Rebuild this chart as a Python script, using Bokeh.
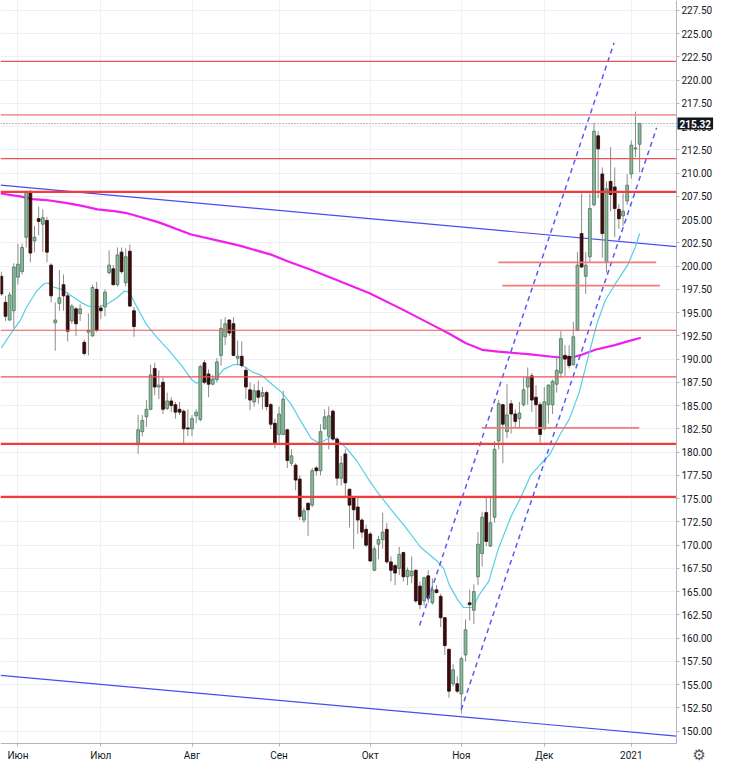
import numpy as np
import pandas as pd
from bokeh.plotting import figure
from bokeh.models import ColumnDataSource, FixedTicker, Range1d, Label, NumeralTickFormatter, LinearAxis
from bokeh.embed import file_html
from bokeh.resources import INLINE

# ---------------- data ----------------
opens = [198.9, 196.1, 194.2, 195.2, 198.8, 199.4, 203.1, 208.0, 202.7, 205.1,
         204.5, 204.9, 200.1, 193.9, 196.0, 198.0, 196.8, 194.1, 195.4, 194.9,
         191.8, 192.9, 192.5, 197.5, 195.5, 195.6, 199.3, 199.7, 198.0, 201.5,
         198.2, 201.6, 195.2, 180.8, 182.2, 183.8, 184.6, 189.0, 187.0, 187.5,
         184.7, 185.5, 185.1, 184.6, 184.4, 182.6, 182.5, 183.9, 183.5, 189.6,
         188.4, 187.3, 187.8, 190.4, 192.4, 194.2, 193.8, 190.1, 190.3, 188.8,
         186.7, 185.4, 186.6, 186.0, 186.4, 185.1, 183.1, 181.9, 181.9, 182.4,
         178.8, 178.6, 177.1, 172.7, 174.5, 174.3, 178.3, 178.0, 182.5, 181.7,
         184.4, 181.4, 177.2, 179.8, 176.0, 175.2, 174.1, 172.7, 171.7, 171.2,
         167.3, 170.1, 170.6, 171.7, 168.2, 167.8, 167.5, 169.2, 166.6, 166.7,
         167.3, 165.6, 164.0, 166.7, 163.8, 165.2, 164.5, 162.2, 158.8, 155.1,
         155.1, 154.0, 158.2, 163.8, 163.0, 166.6, 169.1, 173.5, 169.9, 173.0,
         181.2, 185.1, 182.2, 185.2, 184.1, 183.6, 185.1, 187.0, 188.2, 185.9,
         185.1, 182.5, 185.1, 185.1, 187.3, 188.5, 190.4, 190.3, 189.4, 193.1,
         203.5, 198.9, 201.0, 206.6, 214.0, 209.9, 200.4, 209.1, 208.5, 206.1,
         205.4, 207.0, 209.9, 212.6, 213.1]
highs = [199.4, 196.8, 197.2, 200.3, 202.4, 202.4, 208.1, 208.2, 204.3, 206.4,
         206.1, 205.3, 200.3, 196.1, 199.6, 199.1, 197.2, 195.9, 195.6, 195.9,
         192.1, 194.9, 198.0, 198.3, 195.8, 197.5, 201.7, 200.1, 202.0, 202.0,
         201.9, 202.3, 195.6, 184.0, 184.0, 185.6, 189.4, 189.6, 188.8, 188.0,
         186.4, 185.9, 185.4, 185.4, 184.6, 184.6, 184.0, 184.6, 189.4, 189.9,
         188.9, 188.3, 190.1, 194.3, 194.5, 194.3, 194.5, 192.0, 191.9, 189.1,
         187.5, 187.3, 187.7, 187.0, 186.6, 185.3, 183.6, 184.9, 186.6, 182.5,
         180.3, 178.8, 177.5, 174.0, 174.6, 178.3, 178.5, 183.0, 184.6, 184.9,
         184.6, 181.6, 179.6, 180.3, 176.1, 175.3, 175.1, 172.9, 172.2, 171.4,
         169.9, 171.0, 173.5, 172.4, 168.8, 168.0, 169.8, 169.3, 167.6, 168.8,
         167.4, 166.1, 166.6, 167.3, 166.4, 165.7, 164.8, 162.3, 158.9, 157.2,
         155.9, 158.0, 162.0, 165.2, 165.8, 171.4, 173.6, 175.2, 175.2, 181.2,
         185.6, 185.2, 187.3, 185.6, 184.6, 185.4, 188.0, 189.1, 188.5, 187.2,
         185.4, 187.0, 187.3, 187.8, 190.4, 193.0, 191.5, 191.5, 194.0, 201.5,
         207.8, 201.5, 207.8, 215.4, 214.5, 210.6, 209.1, 212.8, 210.6, 206.7,
         207.8, 209.9, 213.5, 216.6, 215.4]
lows = [196.8, 194.1, 194.1, 193.3, 198.0, 199.1, 202.0, 200.4, 201.5, 203.3,
        201.5, 200.4, 196.1, 190.9, 195.2, 195.2, 191.9, 193.8, 192.5, 194.1,
        190.4, 190.4, 192.4, 192.9, 194.3, 194.6, 199.1, 197.9, 197.8, 199.2,
        197.8, 195.6, 192.4, 179.8, 181.7, 182.7, 184.5, 186.1, 185.7, 184.1,
        184.5, 184.3, 183.6, 184.0, 180.8, 181.7, 181.7, 183.1, 183.3, 187.3,
        185.9, 187.2, 187.5, 189.3, 191.5, 192.5, 190.3, 189.4, 189.1, 185.7,
        184.5, 184.9, 185.2, 184.6, 184.5, 182.5, 180.4, 181.0, 181.8, 178.3,
        178.5, 175.9, 172.7, 172.4, 171.0, 174.1, 177.5, 177.5, 182.4, 180.3,
        181.2, 176.4, 176.4, 175.2, 171.9, 169.6, 171.2, 170.8, 169.8, 168.2,
        167.2, 168.5, 169.6, 168.0, 166.1, 165.7, 166.8, 166.1, 165.7, 165.9,
        163.8, 163.1, 163.5, 163.8, 163.6, 164.8, 161.2, 158.2, 153.6, 154.8,
        154.1, 151.9, 157.5, 161.9, 161.5, 165.7, 167.7, 169.9, 169.8, 172.4,
        180.3, 178.8, 181.5, 182.0, 182.7, 182.5, 184.9, 185.1, 184.3, 182.5,
        181.0, 182.4, 183.1, 184.1, 186.4, 188.0, 188.2, 189.0, 189.3, 193.0,
        199.8, 197.0, 200.4, 206.4, 207.3, 200.9, 199.3, 205.9, 203.1, 204.0,
        204.3, 206.6, 209.4, 211.7, 210.1]
closes = [197.0, 194.6, 196.9, 199.9, 200.2, 202.0, 208.0, 201.4, 203.1, 204.8,
          205.2, 201.5, 196.8, 194.2, 196.6, 196.8, 193.0, 195.7, 193.8, 195.4,
          190.6, 193.1, 197.7, 193.1, 195.2, 197.2, 200.1, 198.0, 201.2, 199.4,
          201.0, 195.7, 193.5, 182.4, 183.4, 184.6, 188.3, 187.0, 187.2, 184.6,
          185.5, 185.0, 184.3, 184.3, 182.5, 182.5, 183.6, 184.3, 189.2, 187.5,
          187.3, 187.8, 189.7, 193.3, 193.8, 192.8, 190.4, 190.3, 189.3, 187.0,
          185.6, 186.6, 185.9, 186.4, 184.9, 183.0, 181.0, 184.1, 185.7, 179.1,
          179.6, 177.0, 173.1, 173.7, 173.8, 178.0, 178.0, 182.2, 183.8, 183.9,
          181.4, 177.2, 178.8, 176.7, 174.3, 173.8, 172.7, 171.4, 170.0, 168.3,
          169.6, 170.6, 171.4, 168.2, 167.3, 167.0, 169.0, 166.6, 167.3, 167.2,
          164.0, 163.6, 166.5, 164.3, 165.2, 164.9, 162.2, 159.2, 154.3, 156.6,
          154.3, 157.8, 160.9, 163.6, 165.0, 170.1, 173.0, 170.4, 172.4, 180.3,
          185.2, 183.0, 184.0, 184.1, 183.3, 184.2, 186.7, 188.0, 185.6, 185.1,
          181.9, 185.4, 187.2, 187.6, 188.8, 192.2, 190.0, 189.3, 192.4, 200.1,
          199.9, 200.1, 206.2, 214.5, 212.6, 203.5, 208.3, 207.7, 206.2, 205.1,
          205.9, 208.7, 213.0, 212.7, 215.32]

month_labels = ["Июн", "Июл", "Авг", "Сен", "Окт", "Ноя", "Дек", "2021"]
month_bars = [4, 24, 46, 67, 89, 111, 131, 152]

# fast moving average (cyan), read as (bar, value)
ma_fast_bar = [0, 2.8, 4.5, 6.1, 8.5, 10.3, 11.3, 12.2, 14.5, 16.9, 19.2, 20.9, 23.2,
               25.5, 27.9, 29.7, 30.9, 32.1, 34.9, 37.2, 40.3, 43.5, 45.9, 47.1, 48.2,
               50.6, 52.0, 53.6, 56.0, 57.6, 59.0, 60.6, 63.0, 65.3, 67.7, 70.0, 72.3,
               74.7, 76.5, 77.7, 79.4, 81.0, 83.3, 85.7, 88.7, 90.4, 94.1, 97.4, 101.1,
               105.1, 106.7, 108.1, 110.0, 111.5, 113.8, 115.2, 117.6, 119.9, 123.0,
               125.4, 127.7, 130.1, 132.4, 134.8, 137.1, 139.4, 141.8, 143.7, 145.7,
               148.0, 151.1, 153.1, 154.0]
ma_fast_val = [191.2, 193.1, 194.1, 195.6, 197.3, 198.1, 198.2, 197.8, 197.5, 196.8,
               196.1, 195.7, 195.6, 195.9, 196.6, 197.3, 197.2, 196.1, 193.8, 192.5,
               191.0, 189.3, 187.8, 187.4, 187.6, 187.8, 188.0, 188.9, 189.4, 189.4,
               189.1, 188.6, 188.2, 187.3, 186.4, 185.1, 183.3, 181.5, 181.0, 181.2,
               181.6, 181.4, 180.4, 179.1, 177.0, 175.9, 173.8, 172.0, 169.8, 168.3,
               167.5, 165.7, 164.2, 163.3, 163.3, 164.6, 166.1, 169.6, 173.1, 175.2,
               177.5, 178.7, 179.8, 181.9, 183.6, 186.4, 190.6, 193.8, 196.3, 198.0,
               200.1, 202.2, 203.5]

# slow moving average (magenta)
ma_slow_bar = [-0.2, 4.5, 7.5, 10.8, 15.5, 19.2, 23.2, 27.2, 30.2, 38.0, 45.8, 53.6,
               57.5, 65.3, 69.2, 74.7, 80.9, 88.7, 96.5, 104.3, 108.2, 112.1, 116.0,
               119.9, 127.7, 134.0, 137.9, 140.2, 143.3, 148.0, 151.1, 154.3]
ma_slow_val = [207.8, 207.5, 207.2, 207.1, 206.8, 206.5, 206.1, 205.9, 205.7, 204.7,
               203.4, 202.6, 202.2, 201.2, 200.5, 199.6, 198.5, 197.1, 195.4, 193.6,
               192.7, 191.7, 191.0, 190.8, 190.5, 190.2, 190.2, 190.5, 191.0, 191.5,
               191.9, 192.3]

# drawn trend lines: (bar0, bar1) and (price0, price1)
trend_upper_bars, trend_upper_prices = [-0.2, 162.9], [208.7, 202.1]
trend_lower_bars, trend_lower_prices = [-0.2, 162.9], [156.0, 149.47]
channel_a_bars, channel_a_prices = [100.9, 147.85], [161.37, 224.02]
channel_b_bars, channel_b_prices = [110.95, 158.1], [152.3, 214.86]

# horizontal levels across the chart
levels_thin = [222.0, 211.56, 193.1, 188.08]
levels_soft = [216.26]
levels_thick = [207.98, 180.88, 175.2]
# short horizontal levels: start bar, end bar, price
short_starts = [119.9, 120.9, 115.9]
short_ends = [158.0, 158.9, 153.9]
short_prices = [200.4, 197.9, 182.6]

last_price = 215.32
y_ticks = [150 + 2.5 * k for k in range(32)]

# ---------------- styles / layout ----------------
UP_FILL, UP_LINE = "#8fb89b", "#46735a"
DN_FILL, DN_LINE = "#3a0c0c", "#2a0707"
WICK = "#8c8c8c"
RED = "#f23c3c"
AXIS = "#b2b5be"
TXT = "#131722"
FONT = "Roboto"
X0, X1, XEND = -0.21, 162.9, 172.07     # chart left, price-scale line, figure right
Y0, Y1, YEND = 148.73, 228.55, 146.42   # time-scale line, chart top, figure bottom

n = len(closes)
df = pd.DataFrame(dict(i=np.arange(n), o=opens, h=highs, l=lows, c=closes))
up = df.c >= df.o
df["top"] = np.maximum(df.o, df.c)
df["bot"] = np.minimum(df.o, df.c)
df["fill"] = np.where(up, UP_FILL, DN_FILL)
df["edge"] = np.where(up, UP_LINE, DN_LINE)
src = ColumnDataSource(df)

p = figure(width=714, height=764, x_range=Range1d(X0, XEND), y_range=Range1d(YEND, Y1),
           x_axis_location=None, y_axis_location=None,
           output_backend="svg", toolbar_location=None,
           min_border_left=0, min_border_top=0, min_border_right=0, min_border_bottom=0)
p.outline_line_color = None
p.background_fill_color = "white"
p.border_fill_color = "white"

# price scale (right) and time scale (bottom), drawn at fixed positions
yax = LinearAxis(fixed_location=X1, ticker=FixedTicker(ticks=y_ticks), bounds=(Y0, Y1),
                 formatter=NumeralTickFormatter(format="0.00"))
xax = LinearAxis(fixed_location=Y0, ticker=FixedTicker(ticks=month_bars), bounds=(X0, X1),
                 major_label_overrides={b: lab for b, lab in zip(month_bars, month_labels)})
p.add_layout(yax, "right")
p.add_layout(xax, "below")
for ax in (xax, yax):
    ax.axis_line_color = AXIS
    ax.major_tick_line_color = AXIS
    ax.major_tick_out = 3
    ax.major_tick_in = 0
    ax.minor_tick_line_color = None
    ax.major_label_text_font = FONT
    ax.major_label_text_font_size = "10px"
    ax.major_label_text_color = TXT
yax.major_label_standoff = 2
xax.major_label_standoff = 4

# grid
p.xgrid.ticker = xax.ticker
p.ygrid.ticker = yax.ticker
p.xgrid.grid_line_color = "#eef0f4"
p.ygrid.grid_line_color = "#eef0f4"

# trend lines (behind)
p.line(trend_upper_bars, trend_upper_prices, color="#4a4af0", line_width=1.2)
p.line(trend_lower_bars, trend_lower_prices, color="#4a4af0", line_width=1.2)

# moving averages
p.line(ma_slow_bar, ma_slow_val, color="#f01ef0", line_width=2.2)
p.line(ma_fast_bar, ma_fast_val, color="#55cfe3", line_width=1.2)

# candles
p.segment(x0="i", y0="l", x1="i", y1="h", color=WICK, line_width=1, source=src)
p.vbar(x="i", width=0.68, top="top", bottom="bot", fill_color="fill", line_color="edge",
       line_width=0.8, source=src)

# channel (dashed)
p.line(channel_a_bars, channel_a_prices, color="#5a5af5", line_width=1.5, line_dash="5 4")
p.line(channel_b_bars, channel_b_prices, color="#5a5af5", line_width=1.5, line_dash="5 4")

# horizontal levels (up to the price scale)
def hlines(levels, **kw):
    p.segment(x0=[X0] * len(levels), y0=levels, x1=[X1] * len(levels), y1=levels, **kw)

hlines(levels_thin, color="#f25050", line_width=1.2)
hlines(levels_soft, color="#f59a9a", line_width=1.6)
hlines(levels_thick, color=RED, line_width=2.2)
p.segment(x0=short_starts, y0=short_prices, x1=short_ends, y1=short_prices,
          color="#f27a7a", line_width=1.8)
hlines([last_price], color="#70737c", line_width=1, line_dash="1 2")

# blank strips behind the scales
p.quad(left=X1, right=XEND, bottom=YEND, top=Y1, fill_color="white", line_color=None)
p.quad(left=X0, right=XEND, bottom=YEND, top=Y0, fill_color="white", line_color=None)

# last price tag on the price scale
p.add_layout(Label(x=X1, y=last_price, text=f"{last_price:.2f}", text_color="white",
                   text_font=FONT, text_font_size="10px", text_font_style="bold",
                   text_baseline="middle", text_align="left", x_offset=1,
                   background_fill_color="#131722", padding=2))
p.add_layout(Label(x=168.4, y=147.47, text="\u2699", text_color="#50535e",
                   text_font="DejaVu Sans", text_font_size="15px",
                   text_baseline="middle", text_align="center"))

open("out.html", "w").write(file_html(p, INLINE))
